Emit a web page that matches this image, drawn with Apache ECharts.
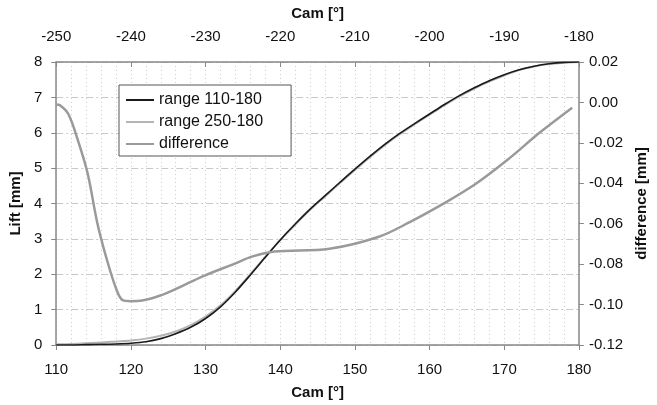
<!DOCTYPE html>
<html><head><meta charset="utf-8">
<script src="https://cdn.jsdelivr.net/npm/echarts@6/dist/echarts.min.js"></script>
<style>html,body{margin:0;padding:0;background:#fff}#c{width:657px;height:405px}</style>
</head><body><div id="c"></div>
<script>
// Cam angle (bottom axis, degrees)
const camLift = [110,112,114,116,118,120,122,124,126,128,130,132,134,136,138,140,142,144,146,148,150,152,154,156,158,160,162,164,166,168,170,172,174,176,178,180];
// Lift, range 110-180 [mm]
const lift110 = [0,0,0.01,0.02,0.03,0.05,0.09,0.18,0.32,0.5,0.75,1.08,1.5,1.98,2.48,2.97,3.42,3.84,4.22,4.6,4.97,5.33,5.67,5.98,6.26,6.53,6.8,7.05,7.27,7.47,7.64,7.78,7.88,7.95,7.99,8.0];
// Lift, range 250-180 [mm]
const lift250 = [0.02,0.03,0.05,0.07,0.1,0.13,0.18,0.26,0.38,0.56,0.8,1.12,1.53,2.0,2.49,2.97,3.4,3.82,4.2,4.58,4.95,5.31,5.65,5.96,6.24,6.51,6.78,7.03,7.25,7.45,7.62,7.77,7.87,7.94,7.98,8.0];
// Difference curve
const camDiff = [110,110.5,111.6,112.9,114.2,115.5,116.8,118.1,118.9,120,121.5,124.1,126.2,129.7,134,136.2,139.2,146.6,153.1,157.4,161.8,166.1,170.4,174.8,179.1];
const diff = [-0.001,-0.0014,-0.0056,-0.0187,-0.035,-0.0596,-0.078,-0.0929,-0.0978,-0.0983,-0.098,-0.0953,-0.092,-0.0859,-0.0796,-0.0763,-0.0738,-0.0724,-0.0666,-0.0591,-0.0502,-0.0405,-0.0285,-0.0148,-0.0026];

const font = 'Liberation Sans, Arial, sans-serif';
const lab = {color:'#111', fontSize:15, fontFamily:font};
const nm = {color:'#111', fontSize:15, fontWeight:'bold', fontFamily:font};
const axLine = {onZero:false, lineStyle:{color:'#888', width:1.5}};
const chart = echarts.init(document.getElementById('c'));
chart.setOption({
  animation:false,
  backgroundColor:'#fff',
  grid:{left:48, right:70, top:62, bottom:60, containLabel:false},
  legend:{
    orient:'vertical', left:119, top:85, backgroundColor:'#fff',
    borderColor:'#555', borderWidth:1, padding:[7,28,4,6], itemGap:6,
    itemWidth:28, itemHeight:16,
    itemStyle:{color:'rgba(0,0,0,0)', borderWidth:0},
    textStyle:{color:'#111', fontSize:16, fontFamily:font},
    data:['range 110-180','range 250-180','difference']
  },
  xAxis:[
    {type:'value', position:'bottom', min:110, max:180, interval:10,
     name:'Cam [°]', nameLocation:'middle', nameGap:40, nameTextStyle:nm,
     axisLine:axLine, axisTick:{show:true, length:5, lineStyle:{color:'#888'}},
     axisLabel:Object.assign({margin:17}, lab),
     splitLine:{show:true, lineStyle:{color:'#cccccc', type:[1,3]}},
     minorTick:{show:false, splitNumber:5},
     minorSplitLine:{show:true, lineStyle:{color:'#cccccc', type:[1,3]}}},
    {type:'value', position:'top', min:-250, max:-180, interval:10,
     name:'Cam [°]', nameLocation:'middle', nameGap:41, nameTextStyle:nm,
     axisLine:axLine, axisTick:{show:true, inside:true, length:5, lineStyle:{color:'#888'}},
     axisLabel:Object.assign({margin:18}, lab),
     splitLine:{show:false}}
  ],
  yAxis:[
    {type:'value', min:0, max:8, interval:1, position:'left',
     name:'Lift [mm]', nameLocation:'middle', nameGap:30, nameTextStyle:nm,
     axisLine:axLine, axisTick:{show:true, length:5, lineStyle:{color:'#888'}},
     axisLabel:Object.assign({margin:14}, lab),
     splitLine:{show:true, lineStyle:{color:'#c8c8c8', type:[7,3,2,3]}}},
    {type:'value', min:-0.12, max:0.02, interval:0.02, position:'right',
     name:'difference [mm]', nameLocation:'middle', nameGap:52, nameTextStyle:nm,
     axisLine:axLine, axisTick:{show:true, length:5, lineStyle:{color:'#888'}},
     axisLabel:Object.assign({margin:10, formatter:v=>v.toFixed(2)}, lab),
     splitLine:{show:false}}
  ],
  series:[
    {name:'range 250-180', type:'line', xAxisIndex:0, yAxisIndex:0, symbol:'none', smooth:0.3,
     lineStyle:{color:'#b4b4b4', width:2}, itemStyle:{color:'#b4b4b4'},
     data:camLift.map((c,i)=>[c,lift250[i]])},
    {name:'range 110-180', type:'line', xAxisIndex:0, yAxisIndex:0, symbol:'none', smooth:0.3,
     lineStyle:{color:'#1a1a1a', width:1.6}, itemStyle:{color:'#1a1a1a'},
     data:camLift.map((c,i)=>[c,lift110[i]])},
    {name:'difference', type:'line', xAxisIndex:0, yAxisIndex:1, symbol:'none', smooth:0.35,
     lineStyle:{color:'#9a9a9a', width:2.5}, itemStyle:{color:'#9a9a9a'},
     data:camDiff.map((c,i)=>[c,diff[i]])}
  ]
});
</script></body></html>
